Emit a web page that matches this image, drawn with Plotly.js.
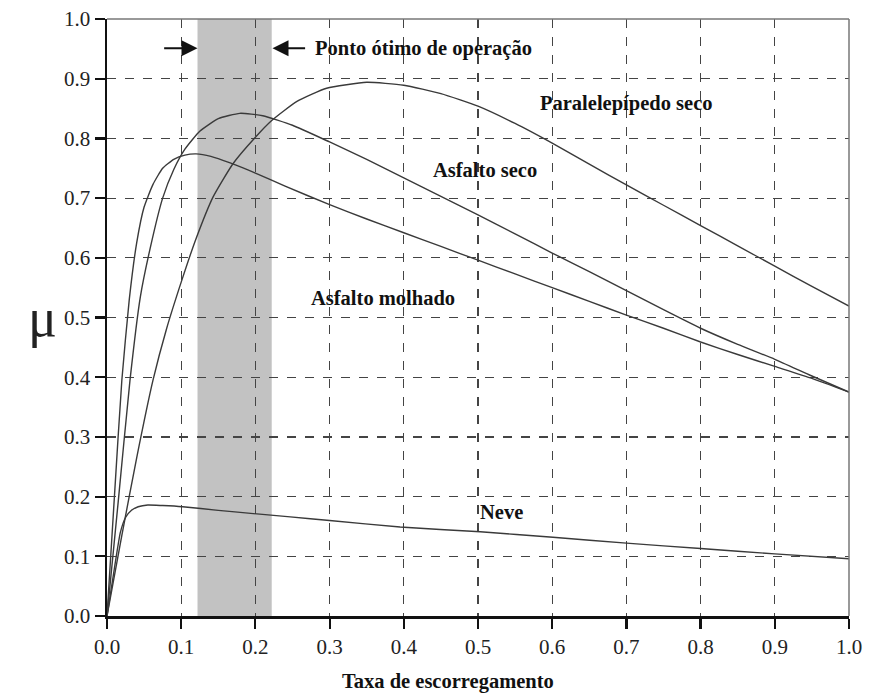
<!DOCTYPE html>
<html>
<head>
<meta charset="utf-8">
<script src="https://cdn.plot.ly/plotly-3.0.1.min.js"></script>
<style>html,body{margin:0;padding:0;background:#fff;}</style>
</head>
<body>
<div id="chart" style="width:871px;height:693px;"></div>
<script>
// Slip ratio (x) and friction coefficient (y) for each surface
const paraX = [0, 0.02, 0.04, 0.062, 0.08, 0.101, 0.12, 0.143, 0.17, 0.2, 0.222, 0.256, 0.296, 0.35, 0.40, 0.45, 0.5, 0.55, 0.6, 0.65, 0.70, 0.75, 0.80, 0.85, 0.9, 0.95, 1.0];
const paraY = [0, 0.135, 0.265, 0.395, 0.48, 0.563, 0.632, 0.702, 0.758, 0.802, 0.830, 0.862, 0.884, 0.894, 0.889, 0.875, 0.854, 0.825, 0.792, 0.757, 0.722, 0.688, 0.654, 0.620, 0.586, 0.552, 0.519];

const secoX = [0, 0.015, 0.031, 0.045, 0.058, 0.075, 0.09, 0.105, 0.125, 0.15, 0.179, 0.21, 0.25, 0.30, 0.35, 0.4, 0.45, 0.5, 0.55, 0.6, 0.65, 0.7, 0.75, 0.8, 0.85, 0.9, 0.95, 1.0];
const secoY = [0, 0.19, 0.395, 0.535, 0.615, 0.700, 0.748, 0.782, 0.812, 0.833, 0.842, 0.838, 0.822, 0.794, 0.765, 0.734, 0.703, 0.672, 0.640, 0.608, 0.577, 0.545, 0.513, 0.482, 0.455, 0.430, 0.402, 0.375];

const molhX = [0, 0.01, 0.020, 0.030, 0.040, 0.050, 0.062, 0.075, 0.09, 0.105, 0.12, 0.14, 0.166, 0.2, 0.24, 0.30, 0.35, 0.4, 0.45, 0.5, 0.55, 0.6, 0.65, 0.7, 0.75, 0.8, 0.85, 0.9, 0.95, 1.0];
const molhY = [0, 0.2, 0.395, 0.53, 0.625, 0.685, 0.723, 0.750, 0.765, 0.772, 0.774, 0.770, 0.759, 0.742, 0.720, 0.689, 0.665, 0.642, 0.619, 0.596, 0.573, 0.550, 0.527, 0.504, 0.482, 0.459, 0.438, 0.418, 0.398, 0.375];

const neveX = [0, 0.01, 0.018, 0.025, 0.033, 0.042, 0.055, 0.075, 0.102, 0.15, 0.202, 0.247, 0.3, 0.395, 0.503, 0.601, 0.7, 0.8, 0.9, 1.0];
const neveY = [0, 0.08, 0.14, 0.165, 0.177, 0.183, 0.186, 0.185, 0.183, 0.177, 0.171, 0.166, 0.16, 0.149, 0.141, 0.132, 0.122, 0.113, 0.104, 0.096];

const tickVals = [0, 0.1, 0.2, 0.3, 0.4, 0.5, 0.6, 0.7, 0.8, 0.9, 1.0];
const tickText = ['0.0', '0.1', '0.2', '0.3', '0.4', '0.5', '0.6', '0.7', '0.8', '0.9', '1.0'];

const optimalRange = [0.122, 0.222];

const curveLabels = ['Paralelepípedo seco', 'Asfalto seco', 'Asfalto molhado', 'Neve'];
const labelX = [0.70, 0.51, 0.372, 0.532];
const labelY = [0.858, 0.747, 0.533, 0.174];

const lineStyle = {color: '#3a3a3a', width: 1.4, shape: 'spline', smoothing: 0.5};
const traces = [
  {x: paraX, y: paraY, mode: 'lines', line: lineStyle, name: curveLabels[0]},
  {x: secoX, y: secoY, mode: 'lines', line: lineStyle, name: curveLabels[1]},
  {x: molhX, y: molhY, mode: 'lines', line: lineStyle, name: curveLabels[2]},
  {x: neveX, y: neveY, mode: 'lines', line: lineStyle, name: curveLabels[3]}
];

const serif = '"Liberation Serif", "Times New Roman", serif';
const axisCommon = {
  range: [0, 1], tickvals: tickVals, ticktext: tickText,
  showgrid: true, gridcolor: '#444', gridwidth: 1.2, griddash: 'dash',
  zeroline: false, showline: true, linecolor: '#111', linewidth: 2.5,
  ticks: 'outside', ticklen: 10, tickwidth: 2.2, tickcolor: '#111',
  tickfont: {family: serif, size: 21, color: '#222'}, fixedrange: true
};

const labelFont = {family: serif, size: 20.5, color: '#111'};
const annotations = curveLabels.map((t, i) => ({
  x: labelX[i], y: labelY[i], xref: 'x', yref: 'y', text: '<b>' + t + '</b>',
  showarrow: false, font: labelFont
}));
annotations.push(
  {x: 0.278, y: 0.951, xref: 'x', yref: 'y', xanchor: 'left', text: '<b>Ponto ótimo de operação</b>', showarrow: false,
   font: labelFont},
  {x: optimalRange[0], y: 0.951, ax: 0.075, ay: 0.951, xref: 'x', yref: 'y', axref: 'x', ayref: 'y',
   text: '', showarrow: true, arrowhead: 2, arrowsize: 1.6, arrowwidth: 2, arrowcolor: '#111'},
  {x: optimalRange[1] + 0.001, y: 0.951, ax: 0.269, ay: 0.951, xref: 'x', yref: 'y', axref: 'x', ayref: 'y',
   text: '', showarrow: true, arrowhead: 2, arrowsize: 1.6, arrowwidth: 2, arrowcolor: '#111'}
);
const L = 107, R = 22, T = 19, B = 77, W = 871, H = 693;
const pw = W - L - R, ph = H - T - B;
annotations.push(
  {x: 0.46, y: (H - B - 681) / ph, xref: 'x', yref: 'paper', yanchor: 'middle',
   text: '<b>Taxa de escorregamento</b>', showarrow: false, font: labelFont},
  {x: (26 - L) / pw, y: (H - B - 318) / ph, xref: 'paper', yref: 'paper', text: 'μ', showarrow: false,
   font: {family: serif, size: 54, color: '#222'}}
);

const layout = {
  width: W, height: H,
  margin: {l: L, r: R, t: T, b: B},
  paper_bgcolor: '#fff', plot_bgcolor: '#fff',
  font: {family: serif, color: '#222'},
  showlegend: false,
  xaxis: Object.assign({}, axisCommon),
  yaxis: Object.assign({}, axisCommon),
  shapes: [
    {type: 'rect', xref: 'x', yref: 'y', x0: optimalRange[0], x1: optimalRange[1], y0: 0, y1: 1,
     fillcolor: '#c2c2c2', line: {width: 0}, layer: 'below'},
    {type: 'line', xref: 'paper', yref: 'paper', x0: 0, x1: 1, y0: 1, y1: 1, line: {color: '#777', width: 1.5}},
    {type: 'line', xref: 'paper', yref: 'paper', x0: 1, x1: 1, y0: 0, y1: 1, line: {color: '#777', width: 1.5}}
  ],
  annotations: annotations
};

Plotly.newPlot('chart', traces, layout, {displayModeBar: false, staticPlot: true});
</script>
</body>
</html>
